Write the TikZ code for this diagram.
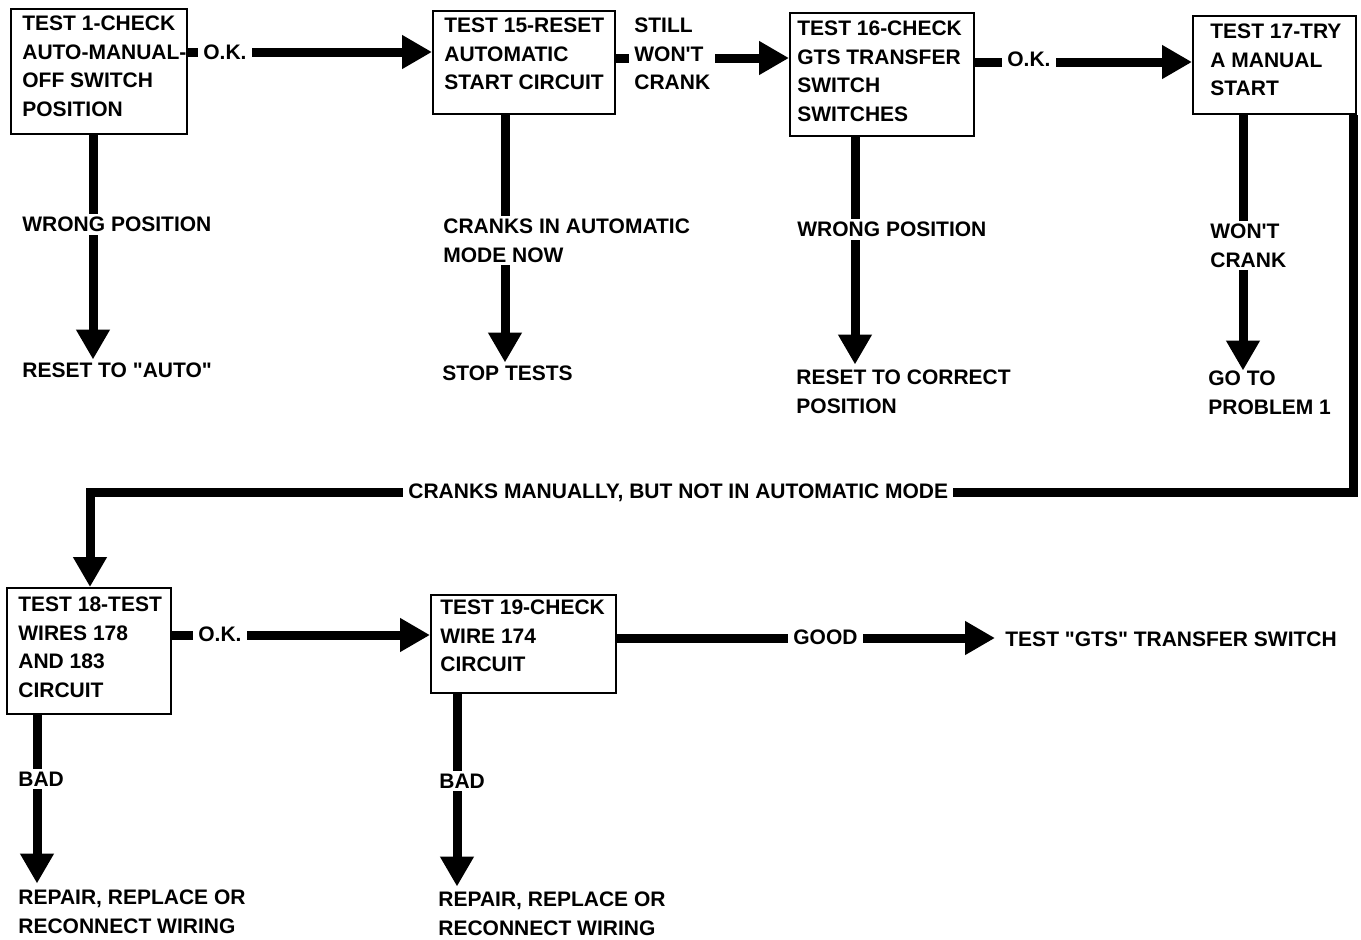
\documentclass[tikz,border=0pt]{standalone}
\usepackage{fontspec}
\setmainfont{Liberation Sans}[Ligatures=TeXOff]
\usepackage{tikz}
\usetikzlibrary{positioning,calc,arrows.meta}

\begin{document}
\begin{tikzpicture}[
    x=0.5pt, y=-0.5pt,
    tbox/.style={rectangle, draw, line width=1.2pt, anchor=north west, inner sep=0pt},
    txt/.style={anchor=north west, inner sep=0pt, align=left, font=\fontsize{10.5}{14.25}\selectfont\bfseries},
    lbl/.style={txt, fill=white, inner xsep=2.5pt, inner ysep=1.5pt},
    arr/.style={-{Triangle[length=15pt, width=16pt]}, line width=4.5pt}
]
    \useasboundingbox (0,0) rectangle (1361,939);

    % test boxes
    \node[tbox, minimum width=88pt, minimum height=62.5pt] (t1) at (10,8) {};
    \node[tbox, minimum width=91pt, minimum height=51.5pt] (t15) at (432,10) {};
    \node[tbox, minimum width=92pt, minimum height=61.5pt] (t16) at (789,12) {};
    \node[tbox, minimum width=81.5pt, minimum height=49pt] (t17) at (1192,15) {};
    \node[tbox, minimum width=82pt, minimum height=63pt] (t18) at (6,587) {};
    \node[tbox, minimum width=92.5pt, minimum height=49pt] (t19) at (430,594) {};

    \node[txt] (t1txt) at (22,15.5) {TEST 1-CHECK\\AUTO-MANUAL-\\OFF SWITCH\\POSITION};
    \node[txt] (t15txt) at (444,17.5) {TEST 15-RESET\\AUTOMATIC\\START CIRCUIT};
    \node[txt] (t16txt) at (797,20.5) {TEST 16-CHECK\\GTS TRANSFER\\SWITCH\\SWITCHES};
    \node[txt] (t17txt) at (1210,23.5) {TEST 17-TRY\\A MANUAL\\START};
    \node[txt] (t18txt) at (18,596.5) {TEST 18-TEST\\WIRES 178\\AND 183\\CIRCUIT};
    \node[txt] (t19txt) at (440,599.5) {TEST 19-CHECK\\WIRE 174\\CIRCUIT};

    % results
    \node[txt] (rst1) at (22,362.5) {RESET TO "AUTO"};
    \node[txt] (stop) at (442,365.5) {STOP TESTS};
    \node[txt] (rst16) at (796,369.5) {RESET TO CORRECT\\POSITION};
    \node[txt] (goto) at (1208,370.5) {GO TO\\PROBLEM 1};
    \node[txt] (gts) at (1005,631.5) {TEST "GTS" TRANSFER SWITCH};
    \node[txt] (rep18) at (18,889.5) {REPAIR, REPLACE OR\\RECONNECT WIRING};
    \node[txt] (rep19) at (438,891.5) {REPAIR, REPLACE OR\\RECONNECT WIRING};

    \coordinate (loop) at (90,492);

    \draw[arr] ([yshift=-22pt]t1.north east) coordinate (h1) -- (h1 -| t15.west);
    \draw[arr] ([yshift=-24pt]t15.north east) coordinate (h2) -- (h2 -| t16.west);
    \draw[arr] ([yshift=-25pt]t16.north east) coordinate (h3) -- (h3 -| t17.west);
    \draw[arr] ([yshift=-24pt]t18.north east) coordinate (h4) -- (h4 -| t19.west);
    \draw[arr, shorten >=5pt] ([yshift=-22pt]t19.north east) coordinate (h5) -- (h5 -| gts.west);

    \draw[arr, shorten >=1.5pt] ([xshift=41.5pt]t1.south west) coordinate (d1) -- (d1 |- rst1.north);
    \draw[arr, shorten >=1.5pt] ([xshift=36.5pt]t15.south west) coordinate (d2) -- (d2 |- stop.north);
    \draw[arr, shorten >=2.5pt] ([xshift=33pt]t16.south west) coordinate (d3) -- (d3 |- rst16.north);
    \draw[arr] ([xshift=25.5pt]t17.south west) coordinate (d4) -- (d4 |- goto.north);
    \draw[arr, shorten >=3pt] ([xshift=15.5pt]t18.south west) coordinate (d5) -- (d5 |- rep18.north);
    \draw[arr, shorten >=2.5pt] ([xshift=13.5pt]t19.south west) coordinate (d6) -- (d6 |- rep19.north);
    \draw[arr] ([xshift=-2pt]t17.south east) |- (loop) -- ([xshift=42pt]t18.north west);

    % labels on the lines
    \node[lbl] (ok1) at (198,41.5) {O.K.};
    \node[lbl] (still) at (629,14.5) {STILL\\WON'T\\CRANK};
    \node[lbl] (ok16) at (1002,48.5) {O.K.};
    \node[lbl] (ok18) at (193,623.5) {O.K.};
    \node[lbl] (good) at (788,626.5) {GOOD};
    \node[lbl] (wrong1) at (17,213.5) {WRONG POSITION};
    \node[lbl] (auto15) at (438,215.5) {CRANKS IN AUTOMATIC\\MODE NOW};
    \node[lbl] (wrong16) at (792,218.5) {WRONG POSITION};
    \node[lbl] (wont17) at (1205,220.5) {WON'T\\CRANK};
    \node[lbl] (manual) at (403,480.5) {CRANKS MANUALLY, BUT NOT IN AUTOMATIC MODE};
    \node[lbl] (bad18) at (13,768.5) {BAD};
    \node[lbl] (bad19) at (434,770.5) {BAD};
\end{tikzpicture}
\end{document}
